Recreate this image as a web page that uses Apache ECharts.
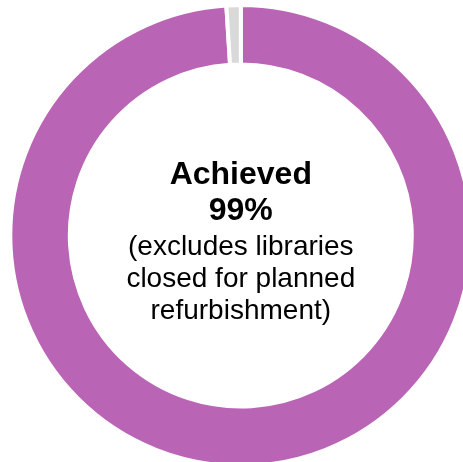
<!DOCTYPE html>
<html>
<head>
<meta charset="utf-8">
<script src="https://cdn.jsdelivr.net/npm/echarts@6/dist/echarts.min.js"></script>
<style>
html,body{margin:0;padding:0;background:#fff;}
#chart{width:463px;height:462px;}
</style>
</head>
<body>
<div id="chart"></div>
<script>
var categories = ['Achieved', 'Not achieved'];
var values = [99, 1];
var colors = ['#B964B4', '#D9D9D9'];
var centerLines = ['Achieved', '99%', '(excludes libraries', 'closed for planned', 'refurbishment)'];

var chart = echarts.init(document.getElementById('chart'), null, {renderer: 'canvas'});
var cx = 240.8, cy = 235.5;
var lineY = [175, 211, 247.5, 279.5, 311];
var graphics = centerLines.map(function (t, i) {
  var bold = i < 2;
  return {
    type: 'text',
    silent: true,
    style: {
      x: cx,
      y: lineY[i],
      text: t,
      align: 'center',
      verticalAlign: 'middle',
      fill: '#000',
      font: (bold ? 'bold 32px' : '28px') + ' "Liberation Sans", Arial, sans-serif'
    }
  };
});

chart.setOption({
  animation: false,
  backgroundColor: '#fff',
  series: [{
    type: 'pie',
    center: [cx, cy],
    radius: [171, 230.5],
    startAngle: 90,
    clockwise: true,
    label: {show: false},
    labelLine: {show: false},
    emphasis: {disabled: true},
    itemStyle: {borderColor: '#fff', borderWidth: 4},
    data: categories.map(function (c, i) {
      return {name: c, value: values[i], itemStyle: {color: colors[i]}};
    })
  }],
  graphic: graphics
});
</script>
</body>
</html>
